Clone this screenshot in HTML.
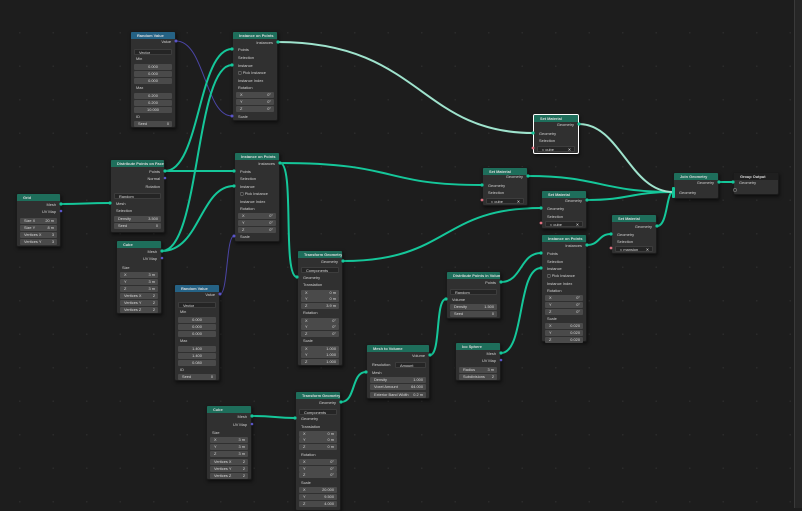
<!DOCTYPE html>
<html><head><meta charset="utf-8"><style>
*{margin:0;padding:0;box-sizing:border-box}
body{width:802px;height:508px;overflow:hidden;background:#1d1d1d;font-family:"Liberation Sans",sans-serif;position:relative;
background-image:radial-gradient(circle,#2b2b2b 0.8px,transparent 1px);background-size:33.5px 33.5px;background-position:3px 16px}
.n{position:absolute;background:#303030;border:1px solid #1a1a1a;border-radius:2px;box-shadow:1px 2px 3px rgba(0,0,0,.5);font-size:3.9px;color:#d0d0d0}
.sel{border:1px solid #fff}
.h{height:7px;background:#1e6e5b;color:#dcdcdc;font-weight:bold;line-height:7px;padding-left:6px;font-size:3.9px;white-space:nowrap;overflow:hidden;border-radius:1px 1px 0 0}
.hb{background:#256285}.hd{background:#1f1f1f}
.l,.o{position:absolute;line-height:6px;height:6px;white-space:nowrap}
.l{left:5px}.o{right:4px}
.f,.d{position:absolute;left:3px;right:3px;height:6px;line-height:6px;background:#4a4a4a;border-radius:1px;text-align:center;white-space:nowrap;color:#d8d8d8}
.f b,.d b{position:absolute;left:4px;font-weight:normal}
.f i,.d i{position:absolute;right:3px;font-style:normal}
.d{background:#252525;border:1px solid #3d3d3d;text-align:left}
.strip{position:absolute;left:794px;top:0;width:8px;height:508px;background:#262626;border-left:1px solid #3a3a3a}
svg{position:absolute;left:0;top:0}
</style></head><body>
<div class="strip"></div>
<svg width="802" height="508" style="z-index:0">
<g fill="none" stroke-linecap="round">
<g stroke="#4b45a6" stroke-width="1">
<path d="M176,41 C205,41 205,116 232,116"/>
<path d="M220,294 C228,294 226,236 234,236"/>
</g>
<g stroke="#15c79a" stroke-width="2">
<path d="M61,204 C85,204 85,203 110,203"/>
<path d="M165,171 C200,171 198,49 232,49"/>
<path d="M165,171 C200,171 200,171 234,171"/>
<path d="M162,251 C200,251 195,65 232,65"/>
<path d="M162,251 C200,251 200,186 234,186"/>
<path d="M280,163 C400,163 380,185 482,185"/>
<path d="M280,163 C295,163 282,277 297,277"/>
<path d="M343,261 C450,261 440,208 541,208"/>
<path d="M528,176 C600,176 600,192 673,192"/>
<path d="M587,200 C630,200 630,192 673,192"/>
<path d="M657,226 C668,226 666,192 673,192"/>
<path d="M719,182 L733,182"/>
<path d="M587,245 C600,245 598,234 611,234"/>
<path d="M501,282 C522,282 520,253 541,253"/>
<path d="M501,353 C525,353 517,268 541,268"/>
<path d="M430,355 C441,355 435,299 446,299"/>
<path d="M341,402 C356,402 351,372 366,372"/>
<path d="M252,416 C275,416 275,418 295,418"/>
</g>
<g stroke="#9fe3cd" stroke-width="2">
<path d="M278,42 C420,42 420,133 533,133"/>
<path d="M579,124 C620,124 630,192 673,192"/>
</g>
</g>
</svg>

<div class="n" style="left:130px;top:31px;width:46px;height:97px"><div class="h hb">Random Value</div>
<div class="o" style="top:7px">Value</div><div class="d" style="top:17px"><b>Vector</b></div>
<div class="l" style="top:24px">Min</div><div class="f" style="top:32px">0.000</div><div class="f" style="top:39px">0.000</div><div class="f" style="top:46px">0.000</div>
<div class="l" style="top:53px">Max</div><div class="f" style="top:61px">0.200</div><div class="f" style="top:68px">0.200</div><div class="f" style="top:75px">10.000</div>
<div class="l" style="top:82px">ID</div><div class="f" style="top:89px"><b>Seed</b><i>0</i></div></div>

<div class="n" style="left:232px;top:31px;width:46px;height:90px"><div class="h">Instance on Points</div>
<div class="o" style="top:8px">Instances</div><div class="l" style="top:15px">Points</div><div class="l" style="top:23px">Selection</div><div class="l" style="top:31px">Instance</div>
<div class="l" style="top:38px">▢ Pick Instance</div><div class="l" style="top:46px">Instance Index</div><div class="l" style="top:53px">Rotation</div>
<div class="f" style="top:60px"><b>X</b><i>0°</i></div><div class="f" style="top:67px"><b>Y</b><i>0°</i></div><div class="f" style="top:74px"><b>Z</b><i>0°</i></div>
<div class="l" style="top:82px">Scale</div></div>

<div class="n" style="left:16px;top:193px;width:45px;height:54px"><div class="h">Grid</div>
<div class="o" style="top:8px">Mesh</div><div class="o" style="top:15px">UV Map</div>
<div class="f" style="top:24px"><b>Size X</b><i>20 m</i></div><div class="f" style="top:31px"><b>Size Y</b><i>8 m</i></div>
<div class="f" style="top:38px"><b>Vertices X</b><i>3</i></div><div class="f" style="top:45px"><b>Vertices Y</b><i>3</i></div></div>

<div class="n" style="left:110px;top:159px;width:55px;height:74px"><div class="h">Distribute Points on Faces</div>
<div class="o" style="top:9px">Points</div><div class="o" style="top:16px">Normal</div><div class="o" style="top:24px">Rotation</div>
<div class="d" style="top:33px"><b>Random</b></div><div class="l" style="top:41px">Mesh</div><div class="l" style="top:48px">Selection</div>
<div class="f" style="top:56px"><b>Density</b><i>3.500</i></div><div class="f" style="top:63px"><b>Seed</b><i>0</i></div></div>

<div class="n" style="left:234px;top:152px;width:46px;height:90px"><div class="h">Instance on Points</div>
<div class="o" style="top:8px">Instances</div><div class="l" style="top:16px">Points</div><div class="l" style="top:23px">Selection</div><div class="l" style="top:31px">Instance</div>
<div class="l" style="top:38px">▢ Pick Instance</div><div class="l" style="top:46px">Instance Index</div><div class="l" style="top:53px">Rotation</div>
<div class="f" style="top:60px"><b>X</b><i>0°</i></div><div class="f" style="top:67px"><b>Y</b><i>0°</i></div><div class="f" style="top:74px"><b>Z</b><i>0°</i></div>
<div class="l" style="top:81px">Scale</div></div>

<div class="n" style="left:116px;top:240px;width:46px;height:74px"><div class="h">Cube</div>
<div class="o" style="top:8px">Mesh</div><div class="o" style="top:15px">UV Map</div><div class="l" style="top:24px">Size</div>
<div class="f" style="top:31px"><b>X</b><i>3 m</i></div><div class="f" style="top:38px"><b>Y</b><i>3 m</i></div><div class="f" style="top:45px"><b>Z</b><i>3 m</i></div>
<div class="f" style="top:52px"><b>Vertices X</b><i>2</i></div><div class="f" style="top:59px"><b>Vertices Y</b><i>2</i></div><div class="f" style="top:66px"><b>Vertices Z</b><i>2</i></div></div>

<div class="n" style="left:174px;top:284px;width:46px;height:97px"><div class="h hb">Random Value</div>
<div class="o" style="top:7px">Value</div><div class="d" style="top:17px"><b>Vector</b></div>
<div class="l" style="top:24px">Min</div><div class="f" style="top:32px">0.000</div><div class="f" style="top:39px">0.000</div><div class="f" style="top:46px">0.000</div>
<div class="l" style="top:53px">Max</div><div class="f" style="top:61px">1.400</div><div class="f" style="top:68px">1.400</div><div class="f" style="top:75px">0.080</div>
<div class="l" style="top:82px">ID</div><div class="f" style="top:89px"><b>Seed</b><i>0</i></div></div>

<div class="n" style="left:297px;top:250px;width:46px;height:116px"><div class="h">Transform Geometry</div>
<div class="o" style="top:8px">Geometry</div><div class="d" style="top:16px"><b>Components</b></div><div class="l" style="top:24px">Geometry</div>
<div class="l" style="top:31px">Translation</div><div class="f" style="top:39px"><b>X</b><i>0 m</i></div><div class="f" style="top:45px"><b>Y</b><i>0 m</i></div><div class="f" style="top:52px"><b>Z</b><i>3.9 m</i></div>
<div class="l" style="top:59px">Rotation</div><div class="f" style="top:67px"><b>X</b><i>0°</i></div><div class="f" style="top:73px"><b>Y</b><i>0°</i></div><div class="f" style="top:80px"><b>Z</b><i>0°</i></div>
<div class="l" style="top:87px">Scale</div><div class="f" style="top:95px"><b>X</b><i>1.000</i></div><div class="f" style="top:101px"><b>Y</b><i>1.000</i></div><div class="f" style="top:108px"><b>Z</b><i>1.000</i></div></div>

<div class="n sel" style="left:533px;top:114px;width:46px;height:40px"><div class="h">Set Material</div>
<div class="o" style="top:7px">Geometry</div><div class="l" style="top:16px">Geometry</div><div class="l" style="top:23px">Selection</div>
<div class="d" style="top:31px"><b>◐ cube</b><i>✕</i></div></div>

<div class="n" style="left:482px;top:167px;width:46px;height:39px"><div class="h">Set Material</div>
<div class="o" style="top:6px">Geometry</div><div class="l" style="top:15px">Geometry</div><div class="l" style="top:22px">Selection</div>
<div class="d" style="top:30px"><b>◐ cube</b><i>✕</i></div></div>

<div class="n" style="left:541px;top:190px;width:46px;height:39px"><div class="h">Set Material</div>
<div class="o" style="top:7px">Geometry</div><div class="l" style="top:15px">Geometry</div><div class="l" style="top:23px">Selection</div>
<div class="d" style="top:30px"><b>◐ cube</b><i>✕</i></div></div>

<div class="n" style="left:611px;top:214px;width:46px;height:40px"><div class="h">Set Material</div>
<div class="o" style="top:9px">Geometry</div><div class="l" style="top:17px">Geometry</div><div class="l" style="top:24px">Selection</div>
<div class="d" style="top:31px"><b>◐ mansion</b><i>✕</i></div></div>

<div class="n" style="left:541px;top:234px;width:46px;height:108px"><div class="h">Instance on Points</div>
<div class="o" style="top:8px">Instances</div><div class="l" style="top:16px">Points</div><div class="l" style="top:24px">Selection</div><div class="l" style="top:31px">Instance</div>
<div class="l" style="top:38px">▢ Pick Instance</div><div class="l" style="top:46px">Instance Index</div><div class="l" style="top:53px">Rotation</div>
<div class="f" style="top:60px"><b>X</b><i>0°</i></div><div class="f" style="top:67px"><b>Y</b><i>0°</i></div><div class="f" style="top:74px"><b>Z</b><i>0°</i></div>
<div class="l" style="top:81px">Scale</div><div class="f" style="top:88px"><b>X</b><i>0.020</i></div><div class="f" style="top:95px"><b>Y</b><i>0.020</i></div><div class="f" style="top:102px"><b>Z</b><i>0.020</i></div></div>

<div class="n" style="left:673px;top:172px;width:46px;height:27px"><div class="h">Join Geometry</div>
<div class="o" style="top:7px">Geometry</div><div class="l" style="top:17px">Geometry</div></div>

<div class="n" style="left:733px;top:172px;width:46px;height:23px"><div class="h hd">Group Output</div>
<div class="l" style="top:7px">Geometry</div></div>

<div class="n" style="left:446px;top:271px;width:55px;height:48px"><div class="h">Distribute Points in Volume</div>
<div class="o" style="top:8px">Points</div><div class="d" style="top:17px"><b>Random</b></div><div class="l" style="top:25px">Volume</div>
<div class="f" style="top:32px"><b>Density</b><i>1.500</i></div><div class="f" style="top:39px"><b>Seed</b><i>0</i></div></div>

<div class="n" style="left:455px;top:342px;width:46px;height:39px"><div class="h">Ico Sphere</div>
<div class="o" style="top:8px">Mesh</div><div class="o" style="top:15px">UV Map</div>
<div class="f" style="top:24px"><b>Radius</b><i>3 m</i></div><div class="f" style="top:31px"><b>Subdivisions</b><i>2</i></div></div>

<div class="n" style="left:366px;top:344px;width:64px;height:55px"><div class="h">Mesh to Volume</div>
<div class="o" style="top:8px">Volume</div><div class="l" style="top:17px">Resolution</div><div class="d" style="top:17px;left:28px"><b>Amount</b></div>
<div class="l" style="top:25px">Mesh</div><div class="f" style="top:32px"><b>Density</b><i>1.000</i></div><div class="f" style="top:39px"><b>Voxel Amount</b><i>64.000</i></div><div class="f" style="top:47px"><b>Exterior Band Width</b><i>0.2 m</i></div></div>

<div class="n" style="left:206px;top:405px;width:46px;height:75px"><div class="h">Cube</div>
<div class="o" style="top:8px">Mesh</div><div class="o" style="top:16px">UV Map</div><div class="l" style="top:24px">Size</div>
<div class="f" style="top:31px"><b>X</b><i>3 m</i></div><div class="f" style="top:38px"><b>Y</b><i>3 m</i></div><div class="f" style="top:45px"><b>Z</b><i>3 m</i></div>
<div class="f" style="top:53px"><b>Vertices X</b><i>2</i></div><div class="f" style="top:60px"><b>Vertices Y</b><i>2</i></div><div class="f" style="top:67px"><b>Vertices Z</b><i>2</i></div></div>

<div class="n" style="left:295px;top:391px;width:46px;height:120px"><div class="h">Transform Geometry</div>
<div class="o" style="top:8px">Geometry</div><div class="d" style="top:17px"><b>Components</b></div><div class="l" style="top:24px">Geometry</div>
<div class="l" style="top:32px">Translation</div><div class="f" style="top:39px"><b>X</b><i>0 m</i></div><div class="f" style="top:45px"><b>Y</b><i>0 m</i></div><div class="f" style="top:52px"><b>Z</b><i>0 m</i></div>
<div class="l" style="top:60px">Rotation</div><div class="f" style="top:67px"><b>X</b><i>0°</i></div><div class="f" style="top:74px"><b>Y</b><i>0°</i></div><div class="f" style="top:80px"><b>Z</b><i>0°</i></div>
<div class="l" style="top:88px">Scale</div><div class="f" style="top:95px"><b>X</b><i>20.000</i></div><div class="f" style="top:102px"><b>Y</b><i>9.500</i></div><div class="f" style="top:109px"><b>Z</b><i>4.000</i></div></div>

<svg width="802" height="508" style="z-index:5;pointer-events:none">
<g fill="#15c79a">
<circle cx="61" cy="204" r="1.6"/><circle cx="110" cy="203" r="1.6"/><circle cx="165" cy="171" r="1.6"/>
<circle cx="232" cy="49" r="1.6"/><circle cx="232" cy="65" r="1.6"/><circle cx="234" cy="171" r="1.6"/><circle cx="234" cy="186" r="1.6"/>
<circle cx="162" cy="251" r="1.6"/><circle cx="278" cy="42" r="1.6"/><circle cx="280" cy="163" r="1.6"/>
<circle cx="297" cy="277" r="1.6"/><circle cx="343" cy="261" r="1.6"/><circle cx="482" cy="185" r="1.6"/><circle cx="528" cy="176" r="1.6"/>
<circle cx="533" cy="133" r="1.6"/><circle cx="579" cy="124" r="1.6"/><circle cx="541" cy="208" r="1.6"/><circle cx="587" cy="200" r="1.6"/>
<circle cx="611" cy="234" r="1.6"/><circle cx="657" cy="226" r="1.6"/><circle cx="587" cy="245" r="1.6"/>
<circle cx="541" cy="253" r="1.6"/><circle cx="541" cy="268" r="1.6"/><circle cx="501" cy="282" r="1.6"/><circle cx="501" cy="353" r="1.6"/>
<circle cx="446" cy="299" r="1.6"/><circle cx="430" cy="355" r="1.6"/><circle cx="366" cy="372" r="1.6"/><circle cx="341" cy="402" r="1.6"/>
<circle cx="252" cy="416" r="1.6"/><circle cx="295" cy="418" r="1.6"/><circle cx="719" cy="182" r="1.6"/><circle cx="733" cy="182" r="1.6"/>
<rect x="672" y="187" width="3" height="11" rx="1"/>
</g>
<g fill="#5a55c8"><circle cx="176" cy="41" r="1.5"/><circle cx="232" cy="116" r="1.5"/><circle cx="220" cy="294" r="1.5"/><circle cx="234" cy="236" r="1.5"/>
<circle cx="61" cy="211" r="1.3"/><circle cx="162" cy="258" r="1.3"/><circle cx="165" cy="178" r="1.3"/><circle cx="501" cy="360" r="1.3"/><circle cx="252" cy="424" r="1.3"/></g>
<g fill="#e07080"><circle cx="533" cy="148" r="1.4"/><circle cx="482" cy="200" r="1.4"/><circle cx="541" cy="223" r="1.4"/><circle cx="611" cy="248" r="1.4"/></g>
<circle cx="735" cy="190" r="1.6" fill="none" stroke="#888" stroke-width=".6"/>
</svg>
</body></html>
